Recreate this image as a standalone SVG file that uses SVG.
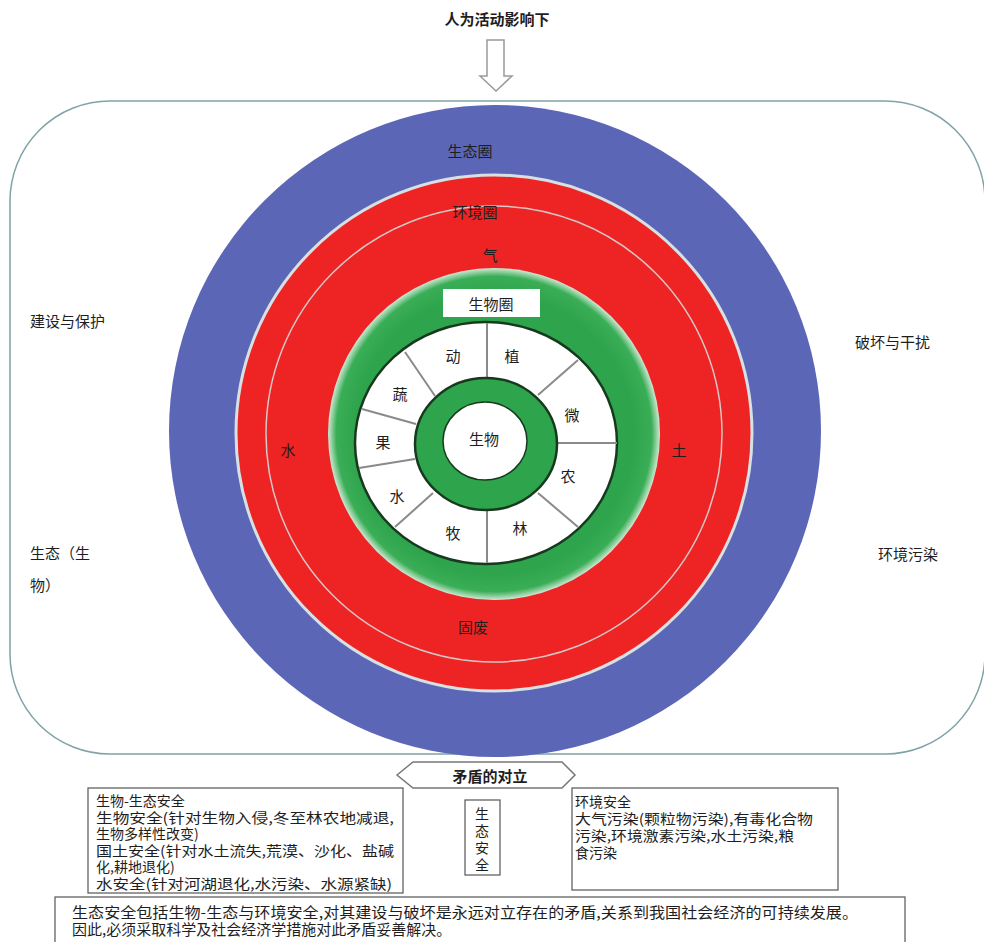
<svg xmlns="http://www.w3.org/2000/svg" width="984" height="942" viewBox="0 0 984 942">
<style>
text{font-family:"Noto Sans CJK SC","Noto Sans CJK TC",sans-serif;fill:#1e1e1e;font-size:15px}
.c{text-anchor:middle;dominant-baseline:central}
.b{font-weight:bold}
.s{font-size:14px}
.box{fill:#fff;stroke:#555;stroke-width:1.2}
.seg{stroke:#8a8a8a;stroke-width:2}
</style>
<defs>
<radialGradient id="gg" cx="494" cy="434" r="166" gradientUnits="userSpaceOnUse">
<stop offset="0.84" stop-color="#2ea44c"/>
<stop offset="0.95" stop-color="#3aae57"/>
<stop offset="1" stop-color="#cfe8d4"/>
</radialGradient>
</defs>
<rect width="984" height="942" fill="#fff"/>
<g id="title">
<text class="c b" x="497" y="18">人为活动影响下</text>
</g>
<g id="arrow">
<path d="M487,40 H504 V76 H512 L496,91 L480,76 H487 Z" fill="#fff" stroke="#9a9a9a" stroke-width="1.5"/>
</g>
<g id="frame">
<rect x="10" y="101" width="975" height="653" rx="100" ry="100" fill="#fff" stroke="#7fa3a6" stroke-width="1.5"/>
</g>
<g id="eco-sphere">
<circle cx="495" cy="431" r="326" fill="#5b66b7"/>
<text class="c" x="470" y="150">生态圈</text>
</g>
<g id="env-sphere">
<circle cx="494" cy="433" r="258" fill="#ee2424" stroke="#d7e0e2" stroke-width="3"/>
<circle cx="494" cy="434" r="228" fill="none" stroke="#d9c6c6" stroke-width="1.5"/>
<text class="c" x="475" y="211">环境圈</text>
<text class="c" x="490" y="254">气</text>
<text class="c" x="288" y="449">水</text>
<text class="c" x="679" y="449">土</text>
<text class="c" x="473" y="626">固废</text>
</g>
<g id="bio-sphere">
<circle cx="494" cy="434" r="166" fill="url(#gg)"/>
<ellipse cx="486" cy="443" rx="131" ry="121" fill="#fff" stroke="#173a1f" stroke-width="2.5"/>
<g class="seg">
<line x1="487" y1="323" x2="487" y2="378"/>
<line x1="578" y1="360" x2="538" y2="395"/>
<line x1="617" y1="443" x2="557" y2="443"/>
<line x1="578" y1="527" x2="538" y2="493"/>
<line x1="487" y1="563" x2="487" y2="510"/>
<line x1="395" y1="527" x2="433" y2="493"/>
<line x1="359" y1="468" x2="415" y2="459"/>
<line x1="362" y1="409" x2="416" y2="424"/>
<line x1="405" y1="352" x2="435" y2="396"/>
</g>
<ellipse cx="486" cy="444" rx="71" ry="66" fill="#2ea44c" stroke="#173a1f" stroke-width="2.5"/>
<ellipse cx="485" cy="441" rx="42" ry="39" fill="#fff" stroke="#173a1f" stroke-width="1.5"/>
<rect x="443" y="289" width="97" height="28" fill="#fff"/>
<text class="c" x="491" y="303">生物圈</text>
<text class="c" x="484" y="438">生物</text>
<text class="c" x="453" y="355">动</text>
<text class="c" x="512" y="355">植</text>
<text class="c" x="400" y="393">蔬</text>
<text class="c" x="572" y="414">微</text>
<text class="c" x="383" y="441">果</text>
<text class="c" x="568" y="475">农</text>
<text class="c" x="397" y="495">水</text>
<text class="c" x="453" y="532">牧</text>
<text class="c" x="520" y="527">林</text>
</g>
<g id="side-labels">
<text x="30" y="327">建设与保护</text>
<text x="855" y="348">破坏与干扰</text>
<text x="30" y="559">生态（生</text>
<text x="30" y="591">物）</text>
<text x="878" y="560">环境污染</text>
</g>
<g id="contradiction">
<path d="M397,775 L413,762 H562 L575,775 L562,788 H413 Z" fill="#fff" stroke="#777" stroke-width="1.5"/>
<text class="c b" x="490" y="775">矛盾的对立</text>
</g>
<g id="bio-eco-safety">
<rect class="box" x="88" y="788" width="315" height="105"/>
<text class="s" x="96" y="806">生物-生态安全</text>
<text class="s" x="96" y="822.5" textLength="298" lengthAdjust="spacingAndGlyphs">生物安全(针对生物入侵,冬至林农地减退,</text>
<text class="s" x="96" y="839">生物多样性改变)</text>
<text class="s" x="96" y="855.5" textLength="298" lengthAdjust="spacingAndGlyphs">国土安全(针对水土流失,荒漠、沙化、盐碱</text>
<text class="s" x="96" y="872">化,耕地退化)</text>
<text class="s" x="96" y="888.5" textLength="296" lengthAdjust="spacingAndGlyphs">水安全(针对河湖退化,水污染、水源紧缺)</text>
</g>
<g id="eco-safety">
<rect class="box" x="465" y="800" width="35" height="75"/>
<text class="c s" x="482" y="813">生</text>
<text class="c s" x="482" y="830">态</text>
<text class="c s" x="482" y="847">安</text>
<text class="c s" x="482" y="864">全</text>
</g>
<g id="env-safety">
<rect class="box" x="572" y="788" width="266" height="102"/>
<text class="s" x="575" y="807">环境安全</text>
<text class="s" x="575" y="824" textLength="238" lengthAdjust="spacingAndGlyphs">大气污染(颗粒物污染),有毒化合物</text>
<text class="s" x="575" y="841" textLength="219" lengthAdjust="spacingAndGlyphs">污染,环境激素污染,水土污染,粮</text>
<text class="s" x="575" y="858">食污染</text>
</g>
<g id="summary">
<rect class="box" x="55" y="897" width="850" height="50"/>
<text x="72" y="918" font-size="14" textLength="786" lengthAdjust="spacingAndGlyphs">生态安全包括生物-生态与环境安全,对其建设与破坏是永远对立存在的矛盾,关系到我国社会经济的可持续发展。</text>
<text x="72" y="935" font-size="14">因此,必须采取科学及社会经济学措施对此矛盾妥善解决。</text>
</g>
</svg>
